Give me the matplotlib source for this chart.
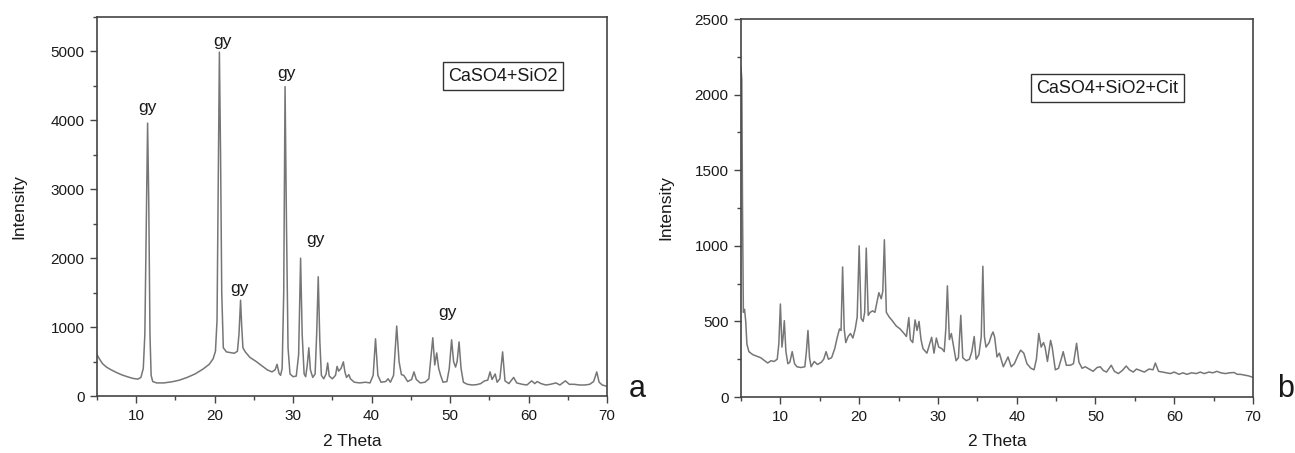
import matplotlib
matplotlib.use('Agg')
import matplotlib.pyplot as plt
from matplotlib.ticker import MultipleLocator

plt.rcParams['font.family'] = ['Liberation Sans', 'DejaVu Sans']

# Panel a: CaSO4+SiO2 (2 Theta, Intensity)
theta_a = [5.0, 5.3, 5.7, 6.2, 6.8, 7.5, 8.2, 9.0, 9.6, 10.2, 10.6, 10.9, 11.1, 11.3, 11.45, 11.6,
           11.75, 11.9, 12.1, 12.6, 13.5, 14.5, 15.5, 16.5, 17.5, 18.5, 19.3, 19.8, 20.1, 20.3,
           20.45, 20.6, 20.75, 20.9, 21.1, 21.5, 22.0, 22.5, 22.9, 23.1, 23.3, 23.45, 23.6, 23.9,
           24.5, 25.3, 26.0, 26.7, 27.3, 27.7, 27.95, 28.2, 28.4, 28.6, 28.8, 28.97, 29.15, 29.35,
           29.6, 30.0, 30.4, 30.7, 30.95, 31.15, 31.4, 31.6, 31.8, 32.0, 32.2, 32.5, 32.8, 33.0,
           33.2, 33.4, 33.6, 33.9, 34.2, 34.4, 34.6, 35.0, 35.4, 35.6, 35.8, 36.1, 36.4, 36.6,
           36.8, 37.1, 37.3, 37.8, 38.5, 39.2, 39.8, 40.2, 40.5, 40.8, 41.2, 41.8, 42.1, 42.4,
           42.8, 43.2, 43.5, 43.8, 44.1, 44.6, 45.1, 45.4, 45.7, 46.2, 46.8, 47.3, 47.6, 47.8,
           48.05, 48.3, 48.55, 48.8, 49.1, 49.6, 49.9, 50.2, 50.45, 50.7, 50.9, 51.15, 51.4, 51.7,
           52.2, 52.8, 53.4, 53.9, 54.4, 54.8, 55.1, 55.35, 55.75, 56.0, 56.35, 56.7, 57.0, 57.5,
           58.1, 58.5, 59.2, 59.8, 60.4, 60.8, 61.1, 61.6, 62.2, 62.8, 63.5, 64.0, 64.7, 65.2,
           65.8, 66.5, 67.2, 67.8, 68.3, 68.7, 69.0, 69.4, 70.0]
inten_a = [600, 540, 470, 420, 380, 340, 305, 275, 255, 245, 270, 400, 900, 2600, 3960, 2800,
           900, 300, 210, 190, 190, 205, 230, 270, 320, 390, 460, 540, 650, 1100,
           3000, 4990, 3500, 1500, 700, 640, 630, 620, 650, 900, 1390, 1000, 700, 640,
           560, 500, 440, 380, 350, 380, 460, 330, 300, 400, 1500, 4490, 2500, 700,
           320, 280, 290, 600, 2000, 900, 320, 280, 450, 700, 380, 270, 320, 900,
           1730, 800, 300, 250, 320, 480, 290, 250, 300, 430, 360, 400, 495, 350,
           270, 310, 250, 200, 190, 200, 190, 300, 830, 300, 200, 210, 250, 200,
           300, 1015, 500, 310, 300, 210, 240, 350, 240, 190, 200, 250, 600, 845,
           450, 625, 400, 300, 200, 210, 400, 815, 500, 420, 500, 785, 400, 200,
           170, 160, 165, 180, 220, 230, 350, 240, 320, 200, 250, 640, 220, 180,
           270, 190, 170, 160, 220, 180, 210, 180, 160, 170, 190, 160, 220, 170,
           170, 160, 160, 170, 210, 350, 200, 160, 140]

# Panel b: CaSO4+SiO2+Cit
theta_b = [5.0, 5.1, 5.2, 5.3, 5.45, 5.6, 5.75, 6.0, 6.5, 7.0, 7.5, 8.0, 8.4, 8.8, 9.2, 9.6,
           9.8, 10.0, 10.2, 10.35, 10.5, 10.7, 10.95, 11.2, 11.5, 11.8, 12.1, 12.6, 13.1, 13.3,
           13.5, 13.7, 13.9, 14.3, 14.7, 15.2, 15.5, 15.8, 16.1, 16.5, 16.9, 17.2, 17.5, 17.7,
           17.9, 18.1, 18.3, 18.6, 18.9, 19.2, 19.5, 19.75, 20.0, 20.25, 20.5, 20.7, 20.9, 21.15,
           21.4, 21.7, 22.0, 22.3, 22.5, 22.8, 23.0, 23.2, 23.45, 23.8, 24.2, 24.7, 25.2, 25.7,
           26.0, 26.3, 26.5, 26.8, 27.1, 27.35, 27.6, 27.85, 28.1, 28.6, 29.2, 29.5, 29.8, 30.1,
           30.5, 30.8, 31.0, 31.2, 31.45, 31.7, 32.0, 32.3, 32.6, 32.9, 33.15, 33.6, 34.0, 34.3,
           34.6, 34.85, 35.2, 35.5, 35.7, 35.9, 36.1, 36.5, 36.8, 37.0, 37.2, 37.5, 37.8, 38.3,
           38.9, 39.3, 39.7, 40.2, 40.5, 40.9, 41.3, 41.8, 42.2, 42.5, 42.8, 43.1, 43.4, 43.6,
           43.9, 44.3, 44.5, 44.9, 45.3, 45.7, 45.9, 46.3, 46.8, 47.2, 47.6, 47.9, 48.3, 48.7,
           49.2, 49.7, 50.2, 50.6, 51.0, 51.4, 52.0, 52.4, 52.9, 53.4, 53.9, 54.3, 54.8, 55.2,
           55.7, 56.2, 56.8, 57.3, 57.6, 58.0, 58.5, 59.0, 59.5, 60.0, 60.6, 61.1, 61.6, 62.2,
           62.8, 63.3, 63.8, 64.4, 64.9, 65.4, 65.9, 66.5, 67.0, 67.6, 68.0, 68.4, 68.9, 69.4,
           70.0]
inten_b = [2180, 2100, 1200, 560, 580, 500, 350, 300, 280, 270, 260, 240, 225, 240, 235, 250,
           350, 615, 330, 400, 505, 300, 220, 230, 300, 220, 200, 195, 200, 300,
           440, 260, 200, 235, 215, 230, 250, 300, 250, 260, 320, 390, 450, 440,
           860, 450, 360, 400, 420, 390, 450, 530, 1000, 520, 500, 560, 985, 540,
           560, 570, 560, 640, 690, 650, 700, 1040, 560, 530, 505, 470, 450, 420,
           400, 525, 380, 360, 510, 440, 500, 380, 320, 290, 395, 290, 390, 330,
           320, 300, 450, 735, 380, 420, 330, 240, 260, 540, 260, 240, 250, 300,
           400, 250, 280, 400, 865, 400, 330, 360, 410, 430, 395, 265, 290, 200,
           265, 200, 220, 280, 310, 290, 220, 190, 180, 250, 420, 330, 360, 330,
           235, 375, 330, 180, 190, 260, 300, 210, 210, 220, 355, 230, 190, 200,
           185, 170, 195, 200, 175, 165, 210, 170, 155, 175, 205, 180, 165, 185,
           175, 165, 185, 180, 225, 170, 165, 160, 155, 165, 150, 160, 150, 160,
           155, 165, 155, 165, 160, 170, 160, 155, 160, 162, 150, 150, 145, 140,
           130]

# "gy" peak labels on panel a (label centre positions)
gy_x = [11.4, 21.0, 23.2, 29.2, 32.8, 49.7]
gy_y = [4185, 5140, 1555, 4680, 2265, 1205]

line_color = '#767676'
spine_color = '#444444'
text_color = '#1a1a1a'


def style_axes(ax, ymax, ystep):
    ax.set_xlim(5, 70)
    ax.set_ylim(0, ymax)
    ax.xaxis.set_major_locator(MultipleLocator(10))
    ax.xaxis.set_minor_locator(MultipleLocator(5))
    ax.yaxis.set_major_locator(MultipleLocator(ystep))
    ax.yaxis.set_minor_locator(MultipleLocator(ystep / 2))
    ax.tick_params(which='major', direction='out', length=5, width=1,
                   color=spine_color, labelsize=11, labelcolor=text_color, pad=4)
    ax.tick_params(which='minor', direction='out', length=3, width=1, color=spine_color)
    for sp in ax.spines.values():
        sp.set_color(spine_color)
        sp.set_linewidth(1.2)
    ax.set_xlabel('2 Theta', fontsize=12.5, color=text_color)
    ax.set_ylabel('Intensity', fontsize=12.5, color=text_color)


fig = plt.figure(figsize=(12.95, 4.53), dpi=100)
ax_a = fig.add_axes([0.0749, 0.1258, 0.3938, 0.8367])
ax_b = fig.add_axes([0.5722, 0.1236, 0.3954, 0.8344])

ax_a.plot(theta_a, inten_a, color=line_color, lw=1.1)
style_axes(ax_a, 5500, 1000)
ax_a.yaxis.set_label_coords(-0.139, 0.5)
ax_a.xaxis.set_label_coords(0.5, -0.100)
for gx, gy in zip(gy_x, gy_y):
    ax_a.text(gx, gy, 'gy', ha='center', va='center', fontsize=12.5, color=text_color)
ax_a.text(0.796, 0.844, 'CaSO4+SiO2', transform=ax_a.transAxes, ha='center', va='center',
          fontsize=13, color=text_color,
          bbox=dict(boxstyle='square,pad=0.3', fc='white', ec='#333333', lw=1))

ax_b.plot(theta_b, inten_b, color=line_color, lw=1.1)
style_axes(ax_b, 2500, 500)
ax_b.yaxis.set_label_coords(-0.133, 0.5)
ax_b.xaxis.set_label_coords(0.5, -0.098)
ax_b.text(0.716, 0.817, 'CaSO4+SiO2+Cit', transform=ax_b.transAxes, ha='center', va='center',
          fontsize=13, color=text_color,
          bbox=dict(boxstyle='square,pad=0.3', fc='white', ec='#333333', lw=1))

fig.text(0.492, 0.124, 'a', fontsize=22, ha='center', va='baseline', color=text_color)
fig.text(0.993, 0.124, 'b', fontsize=22, ha='center', va='baseline', color=text_color)

plt.savefig('out.png', dpi=100)
